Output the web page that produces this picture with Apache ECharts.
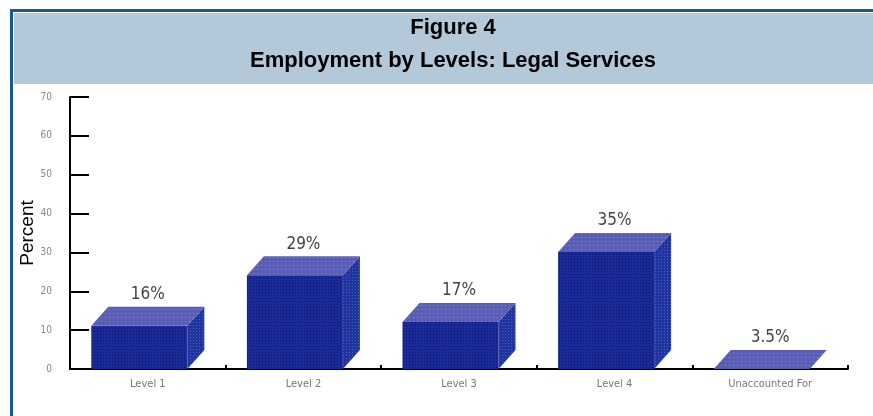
<!DOCTYPE html>
<html>
<head>
<meta charset="utf-8">
<style>
html,body{margin:0;padding:0;background:#fff;}
#chart{width:873px;height:416px;}
</style>
<script src="https://cdn.jsdelivr.net/npm/echarts@6/dist/echarts.min.js"></script>
</head>
<body>
<div id="chart"></div>
<script>
// ---- data ----
const categories = ['Level 1', 'Level 2', 'Level 3', 'Level 4', 'Unaccounted For'];
const values = [16, 29, 17, 35, 3.5];
const valueLabels = ['16%', '29%', '17%', '35%', '3.5%'];
const yTicks = [0, 10, 20, 30, 40, 50, 60, 70];
const titleLine1 = 'Figure 4';
const titleLine2 = 'Employment by Levels: Legal Services';
const yName = 'Percent';

// ---- dotted fill patterns (mimic dithered GIF) ----
function makePattern(base, dot, size) {
  const c = document.createElement('canvas');
  c.width = size; c.height = size;
  const g = c.getContext('2d');
  g.fillStyle = base; g.fillRect(0, 0, size, size);
  g.fillStyle = dot; g.fillRect(1, 1, 1, 1);
  return { image: c, repeat: 'repeat' };
}
const frontFill = makePattern('#1a2a98', '#0c1466', 3);
const topFill = makePattern('#5a5db4', '#7c98d4', 4);
const sideFill = makePattern('#2233a0', '#3a6ac0', 3);

const chart = echarts.init(document.getElementById('chart'));
const DX = 17, DY = 19;
const narrow = 'Liberation Sans Narrow, DejaVu Sans Condensed, Liberation Sans, sans-serif';

chart.setOption({
  animation: false,
  backgroundColor: '#ffffff',
  graphic: [
    { type: 'rect', shape: { x: 10, y: 9, width: 863, height: 3 }, style: { fill: '#18578f' }, silent: true },
    { type: 'rect', shape: { x: 10, y: 9, width: 3, height: 407 }, style: { fill: '#18578f' }, silent: true },
    { type: 'rect', shape: { x: 14, y: 13, width: 859, height: 71 }, style: { fill: '#b3c8d9' }, silent: true, z: -1 }
  ],
  title: {
    text: titleLine1 + '\n' + titleLine2,
    left: 448,
    textAlign: 'center',
    top: 6,
    textStyle: {
      fontFamily: 'Liberation Sans, Arial, sans-serif',
      fontWeight: 'bold',
      fontSize: 22,
      lineHeight: 33,
      color: '#000'
    }
  },
  grid: { left: 70, right: 25, top: 97, bottom: 47, containLabel: false },
  xAxis: {
    type: 'category',
    data: categories,
    axisLine: { lineStyle: { color: '#000', width: 2 } },
    axisTick: { show: true, inside: true, length: 4, lineStyle: { color: '#000', width: 2 } },
    axisLabel: { color: '#777', fontSize: 11, margin: 10, fontFamily: narrow },
    splitLine: { show: false }
  },
  yAxis: {
    type: 'value',
    min: yTicks[0],
    max: yTicks[yTicks.length - 1],
    interval: 10,
    name: yName,
    nameLocation: 'middle',
    nameRotate: 90,
    nameGap: 33,
    nameMoveOverlap: false,
    nameTextStyle: { fontSize: 19, color: '#000', fontFamily: 'Liberation Sans, Arial, sans-serif' },
    axisLine: { show: true, lineStyle: { color: '#000', width: 2 } },
    axisTick: { show: true, inside: true, length: 19, lineStyle: { color: '#000', width: 2 } },
    axisLabel: { color: '#888', fontSize: 10, margin: 18, fontFamily: narrow },
    splitLine: { show: false }
  },
  series: [{
    type: 'custom',
    data: values.map((v, i) => [i, v]),
    renderItem: function (params, api) {
      const idx = api.value(0);
      const v = api.value(1);
      const top = api.coord([idx, v]);
      const base = api.coord([idx, 0]);
      const band = api.size([1, 0])[0];
      const fw = band * 0.617;
      const x0 = top[0] - (fw + DX) / 2;
      const x1 = x0 + fw;
      const y0 = base[1];
      const ft = Math.min(top[1] + DY, y0);
      const children = [];
      if (y0 - ft > 0.5) {
        children.push({ type: 'rect', shape: { x: x0, y: ft, width: fw, height: y0 - ft }, style: { fill: frontFill } });
        children.push({ type: 'polygon', shape: { points: [[x1, ft], [x1 + DX, ft - DY], [x1 + DX, y0 - DY], [x1, y0]] }, style: { fill: sideFill } });
      }
      children.push({ type: 'polygon', shape: { points: [[x0, ft], [x1, ft], [x1 + DX, ft - DY], [x0 + DX, ft - DY]] }, style: { fill: topFill } });
      children.push({
        type: 'text',
        style: {
          text: valueLabels[params.dataIndex],
          x: top[0], y: ft - DY - 12,
          align: 'center', verticalAlign: 'middle',
          fontSize: 17, fill: '#444',
          fontFamily: narrow
        }
      });
      return { type: 'group', children: children };
    }
  }]
});
</script>
</body>
</html>
